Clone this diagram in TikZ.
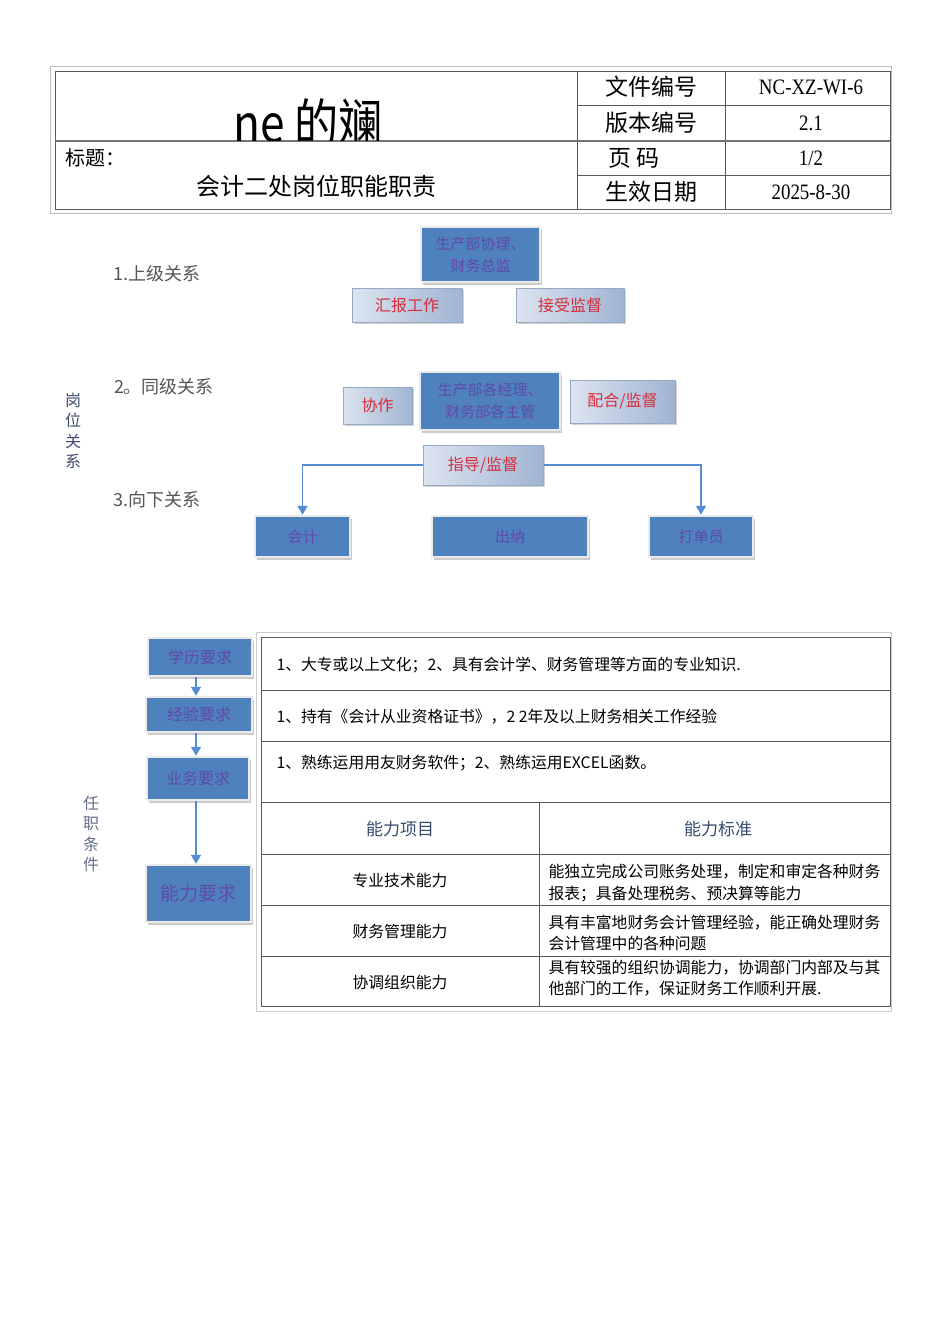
\documentclass[tikz,border=0pt]{standalone}
\usepackage{fontspec}
\setmainfont{Liberation Serif}
\newfontfamily\cjk{Noto Sans CJK SC}
\usepackage{tikz}
\usetikzlibrary{arrows.meta, positioning, shadows, backgrounds}
\definecolor{boxblue}{RGB}{79,129,189}
\definecolor{boxtext}{RGB}{95,75,165}
\definecolor{tagred}{RGB}{215,45,60}
\definecolor{taglight}{RGB}{220,228,240}
\definecolor{tagdark}{RGB}{160,180,210}
\definecolor{tagedge}{RGB}{150,170,200}
\definecolor{linkblue}{RGB}{85,140,210}
\definecolor{relgray}{RGB}{85,85,85}
\definecolor{vblue}{RGB}{60,75,110}
\definecolor{hdblue}{RGB}{55,75,110}
\tikzset{
  bluebox/.style={rectangle, draw=black!8, line width=2.5pt, fill=boxblue, text=boxtext,
    font=\cjk\fontsize{15}{22}\selectfont, align=center, inner sep=0pt,
    drop shadow={shadow xshift=2pt, shadow yshift=-2.5pt, fill=black!40}},
  tag/.style={rectangle, draw=tagedge, line width=1pt, left color=taglight, right color=tagdark,
    text=tagred, font=\cjk\fontsize{16}{20}\selectfont, inner sep=0pt,
    drop shadow={shadow xshift=1.5pt, shadow yshift=-2pt, fill=black!35}},
  conn/.style={draw=linkblue, line width=1.6pt, -{Triangle[width=10pt,length=9pt]}},
  rel/.style={font=\cjk\fontsize{18}{20}\selectfont, text=relgray},
  vlabel/.style={font=\cjk\fontsize{16}{20.5}\selectfont, text=vblue, align=center},
  hdr/.style={font=\cjk\fontsize{23}{26}\selectfont},
  val/.style={font=\fontsize{22}{24}\selectfont, xscale=.86},
  cell/.style={font=\cjk\fontsize{15.8}{21.5}\selectfont, anchor=west, align=left},
  colhd/.style={font=\cjk\fontsize{17}{20}\selectfont, text=hdblue}
}
\begin{document}
\begin{tikzpicture}[x=1pt, y=-1pt]
  \useasboundingbox[fill=white] (0,0) rectangle (950,1344);
  % header table
  \draw[black!25] (50,66) rectangle (891,213);
  \draw[black!65, line width=.9pt] (55,71) rectangle (890,209);
  \draw[black!65, line width=.9pt] (577,71) -- (577,209);
  \draw[black!65, line width=.9pt] (725,71) -- (725,209);
  \draw[black!65, line width=.9pt] (577,105) -- (890,105);
  \draw[black!55, line width=1.3pt] (55,141) -- (890,141);
  \draw[black!65, line width=.9pt] (577,175) -- (890,175);
  \begin{scope}
    \clip (55,71) rectangle (577,140);
    \node[font=\cjk\fontsize{52}{52}\selectfont, xscale=.85] (logo) at (308,123) {ne 的斓};
  \end{scope}
  \node[font=\cjk\fontsize{20}{22}\selectfont] (ttl) at (95,158) {标题：};
  \node[font=\cjk\fontsize{24}{26}\selectfont] (ttltxt) at (316,186) {会计二处岗位职能职责};
  \node[hdr] (h1) at (651,87) {文件编号};
  \node[hdr] (h2) at (651,123) {版本编号};
  \node[hdr] (h3) at (634,158) {页\ 码};
  \node[hdr] (h4) at (651,192) {生效日期};
  \node[val] (v1) at (811,87) {NC-XZ-WI-6};
  \node[val] (v2) at (811,123) {2.1};
  \node[val] (v3) at (811,158) {1/2};
  \node[val] (v4) at (811,192) {2025-8-30};

  % relations chart
  \coordinate (spine) at (473,0);
  \node[rel] (r1) at (157,274) {1.上级关系};
  \node[rel] (r2) at (164,387) {2。同级关系};
  \node[rel] (r3) at (157,500) {3.向下关系};
  \node[vlabel] (gw) at (73,431) {岗\\位\\关\\系};
  \node[bluebox, minimum width=119pt, minimum height=55pt] (top) at (480.5,254.5) {生产部协理、\\财务总监};
  \node[tag, minimum width=110pt, minimum height=34pt] (hb) at (407,305) {汇报工作};
  \node[tag, minimum width=108pt, minimum height=34pt] (js) at (570,305) {接受监督};
  \node[bluebox, minimum width=140pt, minimum height=58pt] (mgr) at (490,401) {生产部各经理、\\财务部各主管};
  \node[tag, minimum width=69pt, minimum height=37pt] (xz) at (377.5,405.5) {协作};
  \node[tag, minimum width=105pt, minimum height=43pt] (ph) at (622.5,401.5) {配合/监督};
  \node[tag, minimum width=120pt, minimum height=40pt] (zd) at (483,465) {指导/监督};
  \node[bluebox, minimum width=95pt, minimum height=41pt] (kj) at (302.5,536.5) {会计};
  \node[bluebox, minimum width=156pt, minimum height=41pt] (cn) at (510,536.5) {出纳};
  \node[bluebox, minimum width=104pt, minimum height=41pt] (dd) at (701,536.5) {打单员};
  \begin{scope}[on background layer]
    \draw[conn] (mgr.north -| spine) -- (top.south -| spine);
    \draw[conn] (mgr.south -| spine) -- (cn.north -| spine);
  \end{scope}
  \draw[conn] (zd.west) -| (kj.north);
  \draw[conn] (zd.east) -| (dd.north);

  % requirements
  \coordinate (flowx) at (196,0);
  \node[vlabel, text=vblue!80] (rz) at (91,834) {任\\职\\条\\件};
  \node[bluebox, minimum width=104pt, minimum height=38pt, font=\cjk\fontsize{16}{20}\selectfont] (xl) at (200,657) {学历要求};
  \node[bluebox, minimum width=106pt, minimum height=35pt, font=\cjk\fontsize{16}{20}\selectfont] (jy) at (199,714.5) {经验要求};
  \node[bluebox, minimum width=102pt, minimum height=43pt, font=\cjk\fontsize{16}{20}\selectfont] (yw) at (198,778.5) {业务要求};
  \node[bluebox, minimum width=105pt, minimum height=57pt, font=\cjk\fontsize{19}{22}\selectfont] (nl) at (198.5,893.5) {能力要求};
  \draw[conn] (xl.south -| flowx) -- (jy.north -| flowx);
  \draw[conn] (jy.south -| flowx) -- (yw.north -| flowx);
  \draw[conn] (yw.south -| flowx) -- (nl.north -| flowx);

  \draw[black!20] (256,632) rectangle (891,1011);
  \draw[black!65, line width=.8pt] (261,637) rectangle (890,1006);
  \foreach \yy in {690,741,802,854,905,956}
    \draw[black!65, line width=.8pt] (261,\yy) -- (890,\yy);
  \draw[black!65, line width=.8pt] (539,802) -- (539,1006);
  \node[cell] (t1) at (273,665) {1、大专或以上文化；2、具有会计学、财务管理等方面的专业知识.};
  \node[cell] (t2) at (273,717) {1、持有《会计从业资格证书》，2 2年及以上财务相关工作经验};
  \node[cell] (t3) at (273,763) {1、熟练运用用友财务软件；2、熟练运用EXCEL函数。};
  \node[colhd] (c1) at (400,829) {能力项目};
  \node[colhd] (c2) at (718,829) {能力标准};
  \node[cell, anchor=center] (a1) at (400,880) {专业技术能力};
  \node[cell] (b1) at (545,883) {能独立完成公司账务处理，制定和审定各种财务\\报表；具备处理税务、预决算等能力};
  \node[cell, anchor=center] (a2) at (400,931) {财务管理能力};
  \node[cell] (b2) at (545,933) {具有丰富地财务会计管理经验，能正确处理财务\\会计管理中的各种问题};
  \node[cell, anchor=center] (a3) at (400,982) {协调组织能力};
  \node[cell] (b3) at (545,978) {具有较强的组织协调能力，协调部门内部及与其\\他部门的工作，保证财务工作顺利开展.};
\end{tikzpicture}
\end{document}
